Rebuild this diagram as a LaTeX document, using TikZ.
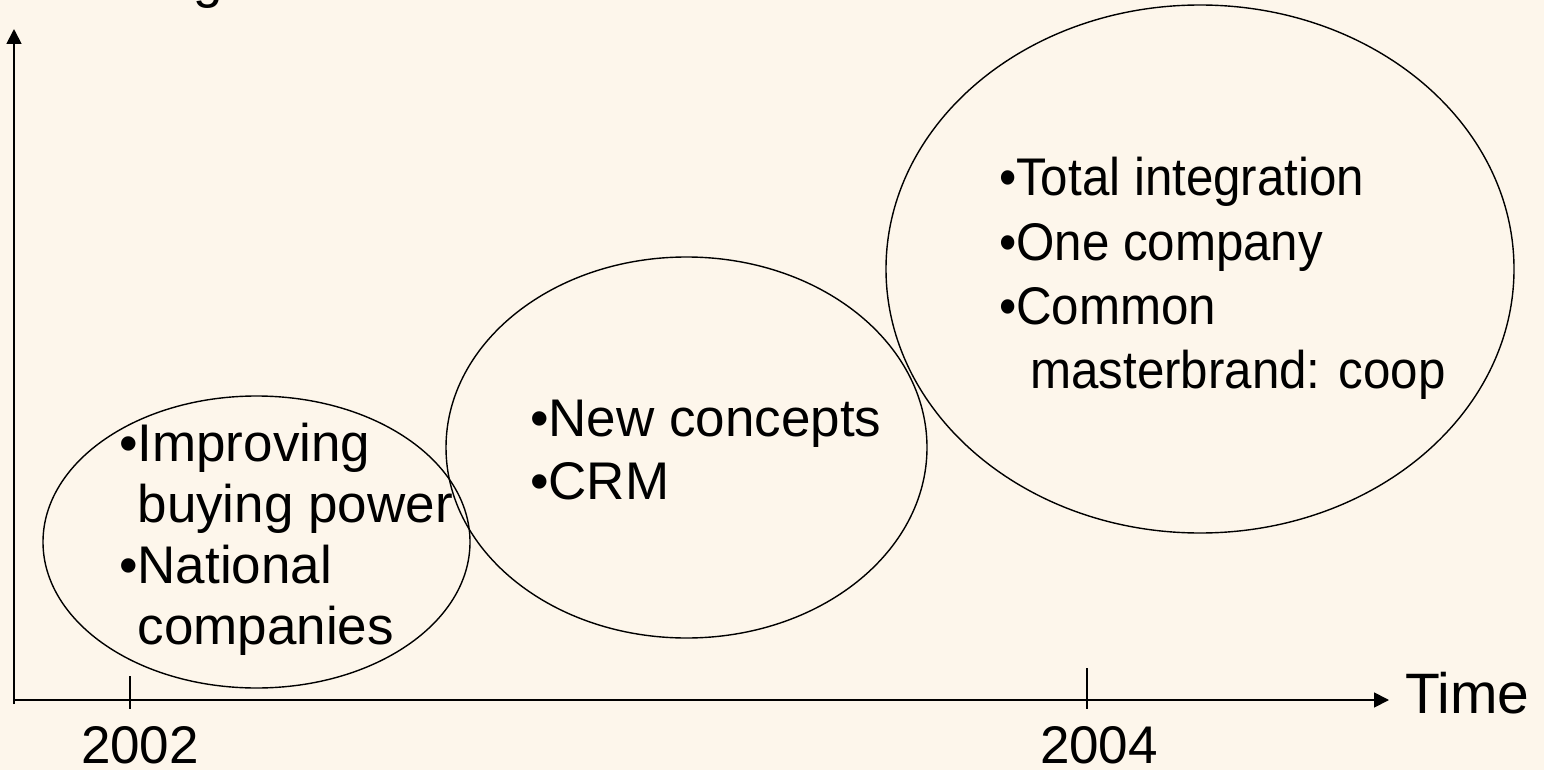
\documentclass[tikz,border=0pt]{standalone}
\usepackage{fontspec}
\setmainfont{Liberation Sans}
\newfontfamily\narrowfont[FakeStretch=0.93]{Liberation Sans}
\usetikzlibrary{arrows.meta,shapes.geometric}
\definecolor{bgcream}{RGB}{253,246,235}
\begin{document}
\begin{tikzpicture}[x=1pt,y=-1pt,
  txt/.style={anchor=base west,inner sep=0pt,outer sep=0pt,font=\fontsize{53}{63}\selectfont},
  ntxt/.style={txt,font=\narrowfont\fontsize{53}{63}\selectfont},
  oval/.style={draw=black,line width=1.4pt,ellipse,inner sep=0pt},
  axis/.style={draw=black,line width=1.8pt,-{Triangle[length=15pt,width=15pt]}},
  tick/.style={draw=black,line width=1.5pt}]
\fill[bgcream] (0,0) rectangle (1544,770);
\useasboundingbox (0,0) rectangle (1544,770);
% cut-off label at the top
\node[txt] (ylab) at (193,-2) {g};
% axes
\coordinate (origin) at (14,700);
\coordinate (ybot) at (14,704);
\coordinate (ytop) at (14,29);
\coordinate (xend) at (1389,700);
\draw[axis] (ybot) -- (ytop);
\draw[axis] (origin) -- (xend);
% ticks
\coordinate (t1a) at (130,676);
\coordinate (t1b) at (130,709);
\coordinate (t2a) at (1087,668);
\coordinate (t2b) at (1087,709);
\draw[tick] (t1a) -- (t1b);
\draw[tick] (t2a) -- (t2b);
% axis labels
\node[txt] (y2002) at (81,763) {2002};
\node[txt] (y2004) at (1040,763) {2004};
\node[txt,font=\fontsize{57}{63}\selectfont] (time) at (1405,713) {Time};
% ellipses
\node[oval,minimum width=427pt,minimum height=292pt] (e1) at (256.5,542) {};
\node[oval,minimum width=481pt,minimum height=381pt] (e2) at (686.5,447.5) {};
\node[oval,minimum width=628pt,minimum height=528pt] (e3) at (1200,269) {};
% texts ellipse 1
\node[txt] (a1) at (119,461) {•Improving};
\node[txt] (a2) at (119,522) {\hphantom{•}buying power};
\node[txt] (a3) at (119,583) {•National};
\node[txt] (a4) at (119,644) {\hphantom{•}companies};
% texts ellipse 2
\node[txt] (b1) at (530,436) {•New concepts};
\node[txt] (b2) at (530,499) {•CRM};
% texts ellipse 3
\node[ntxt] (c1) at (999,196) {•Total integration};
\node[ntxt] (c2) at (999,260) {•One company};
\node[ntxt] (c3) at (999,324) {•Common};
\node[ntxt] (c4) at (1013,388) {\hphantom{•}masterbrand: coop};
\end{tikzpicture}
\end{document}
